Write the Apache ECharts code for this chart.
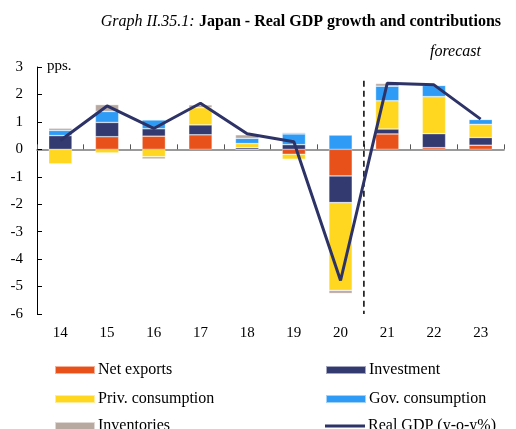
<!DOCTYPE html>
<html>
<head>
<meta charset="utf-8">
<script src="https://cdn.jsdelivr.net/npm/echarts@6/dist/echarts.min.js"></script>
<style>
  html, body { margin: 0; padding: 0; background: #fff; }
  #chart { width: 516px; height: 429px; }
</style>
</head>
<body>
<div id="chart"></div>
<script>
// Years (20xx) on the category axis
const years = ['14', '15', '16', '17', '18', '19', '20', '21', '22', '23'];

// Contributions to real GDP growth, percentage points
const netExports  = [0.00, 0.46, 0.48, 0.53, 0.00, -0.18, -0.97, 0.56, 0.06, 0.15];
const investment  = [0.50, 0.52, 0.27, 0.36, 0.06, 0.17, -0.97, 0.18, 0.51, 0.28];
const privCons    = [-0.53, -0.13, -0.27, 0.63, 0.15, -0.18, -3.20, 1.03, 1.35, 0.48];
const govCons     = [0.19, 0.40, 0.32, 0.00, 0.19, 0.39, 0.52, 0.53, 0.41, 0.18];
const inventories = [0.08, 0.25, -0.08, 0.10, 0.13, 0.05, -0.11, 0.10, 0.00, 0.00];

// Real GDP, y-o-y %
const realGDP = [0.32, 1.58, 0.76, 1.68, 0.57, 0.28, -4.78, 2.41, 2.35, 1.10];

// Y axis range and step
const yMin = -6, yMax = 3, yStep = 1;

// Forecast period starts with this year index (boundary before '21'); divider top value
const forecastStart = 7;
const dividerTop = 2.5;

const serif = '"Liberation Serif", "Times New Roman", serif';

const C = {
  net: '#E8511A',
  inv: '#333A70',
  priv: '#FFD720',
  gov: '#2E9CF6',
  stock: '#B8A9A0',
  gdp: '#2D3366'
};

function barSeries(name, data, color) {
  return {
    name: name,
    type: 'bar',
    stack: 'contrib',
    barWidth: '50%',
    xAxisIndex: 0,
    data: data,
    itemStyle: { color: color, borderColor: 'rgba(255,255,255,0.55)', borderWidth: 0.6 },
    emphasis: { disabled: true }
  };
}

// One legend block per entry, laid out in two columns
function legendItem(name, left, top, iconHeight) {
  return {
    left: left, top: top, orient: 'horizontal',
    itemWidth: 40, itemHeight: iconHeight || 8,
    icon: 'rect',
    selectedMode: false,
    textStyle: { fontFamily: serif, fontSize: 16, color: '#000', padding: [0, 0, 0, -2] },
    data: [name]
  };
}

const chart = echarts.init(document.getElementById('chart'), null, { renderer: 'canvas' });

chart.setOption({
  animation: false,
  backgroundColor: '#ffffff',
  textStyle: { fontFamily: serif, color: '#000' },
  title: {
    text: '{i|Graph II.35.1:} {b|Japan - Real GDP growth and contributions}',
    right: 10,
    top: 8,
    textStyle: {
      rich: {
        i: { fontFamily: serif, fontStyle: 'italic', fontWeight: 'normal', fontSize: 16, color: '#000' },
        b: { fontFamily: serif, fontWeight: 'bold', fontSize: 16, color: '#000' }
      }
    }
  },
  graphic: [
    {
      type: 'text', left: 47, top: 59,
      style: { text: 'pps.', font: '15px ' + serif, fill: '#000' }
    },
    {
      type: 'text', left: 430, top: 44,
      style: { text: 'forecast', font: 'italic 16px ' + serif, fill: '#000' }
    }
  ],
  legend: [
    legendItem('Net exports', 49, 357),
    legendItem('Priv. consumption', 49, 386),
    legendItem('Inventories', 49, 413),
    legendItem('Investment', 320, 357),
    legendItem('Gov. consumption', 320, 386),
    legendItem('Real GDP (y-o-y%)', 320, 413, 3)
  ],
  grid: { left: 37, right: 12, top: 67, bottom: 115, containLabel: false },
  xAxis: [
    {
      type: 'category',
      data: years,
      boundaryGap: true,
      axisLine: { onZero: true, lineStyle: { color: '#7a7a7a', width: 1.6 } },
      axisTick: { show: true, inside: true, length: 5, lineStyle: { color: '#555', width: 1 } },
      axisLabel: { show: false },
      splitLine: { show: false }
    },
    {
      type: 'category',
      data: years,
      position: 'bottom',
      boundaryGap: true,
      axisLine: { show: false, onZero: false },
      axisTick: { show: false },
      axisLabel: { fontFamily: serif, fontSize: 15, color: '#000', margin: 12 },
      splitLine: { show: false }
    },
    {
      // continuous twin of the year axis, used to place the forecast divider between categories
      type: 'value',
      min: 0,
      max: years.length,
      show: false
    }
  ],
  yAxis: {
    type: 'value',
    min: yMin,
    max: yMax,
    interval: yStep,
    axisLine: { show: true, lineStyle: { color: '#000', width: 1 } },
    axisTick: { show: true, inside: true, length: 5, lineStyle: { color: '#000', width: 1 } },
    axisLabel: { fontFamily: serif, fontSize: 15, color: '#000', margin: 14 },
    splitLine: { show: false }
  },
  series: [
    barSeries('Net exports', netExports, C.net),
    barSeries('Investment', investment, C.inv),
    barSeries('Priv. consumption', privCons, C.priv),
    barSeries('Gov. consumption', govCons, C.gov),
    barSeries('Inventories', inventories, C.stock),
    {
      name: 'Real GDP (y-o-y%)',
      type: 'line',
      xAxisIndex: 0,
      data: realGDP,
      symbol: 'none',
      showSymbol: false,
      lineStyle: { color: C.gdp, width: 3 },
      itemStyle: { color: C.gdp },
      emphasis: { disabled: true },
      z: 5
    },
    {
      name: 'forecast divider',
      type: 'line',
      xAxisIndex: 2,
      data: [[forecastStart, dividerTop], [forecastStart, yMin]],
      symbol: 'none',
      silent: true,
      lineStyle: { color: '#000', type: [6, 4], width: 1.5 },
      z: 4
    }
  ]
});
</script>
</body>
</html>
